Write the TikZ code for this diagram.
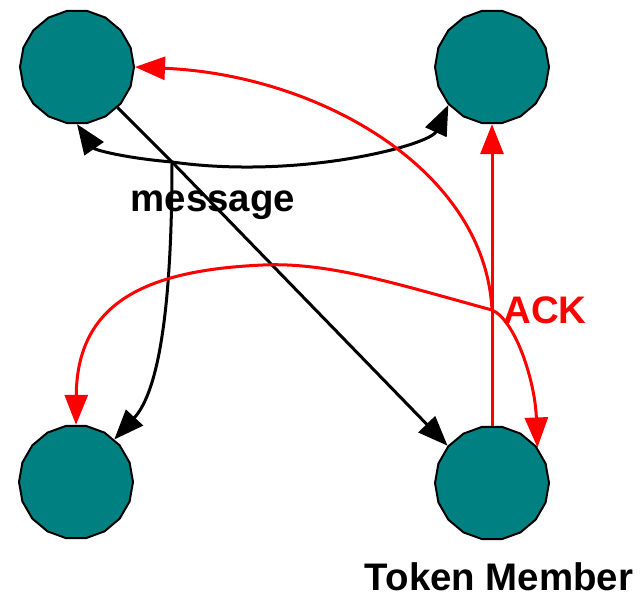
\documentclass[tikz,border=0pt]{standalone}
\usepackage{fontspec}
\setmainfont{Liberation Sans}
\usetikzlibrary{shapes.geometric,arrows.meta}
\definecolor{tealfill}{RGB}{0,128,128}
\definecolor{ackred}{RGB}{255,0,0}
\begin{document}
\begin{tikzpicture}[x=0.5pt,y=-0.5pt,
  member/.style={regular polygon, regular polygon sides=18, minimum size=57pt, inner sep=0pt, fill=tealfill, draw=black, line width=1pt},
  msg/.style={draw=black, line width=1.5pt},
  ack/.style={draw=ackred, line width=1.5pt},
  tip/.style={-{Triangle[length=15pt,width=11.5pt]}},
  lbl/.style={inner sep=0pt, font=\bfseries\fontsize{19.2}{22}\selectfont}]
\useasboundingbox (0,0) rectangle (643,598);
\node[member] (TL) at (77,67) {};
\node[member] (TR) at (492,67) {};
\node[member] (BL) at (76,482) {};
\node[member] (BR) at (492,483) {};
\coordinate (J1) at (172,162);
\coordinate (J2) at (492,310);
% message edges
\draw[msg] (TL.-45) -- (J1);
\draw[msg,tip] (J1) -- (BR.140);
\draw[msg,tip] (J1) .. controls (125,158) and (95,150) .. (TL.-90);
\draw[msg,tip] (J1) .. controls (300,180) and (430,145) .. (TR.221);
\draw[msg,tip] (J1) .. controls (172,300) and (160,390) .. (BL.48);
% ACK edges
\draw[ack] (BR.north) -- (J2);
\draw[ack,tip] (J2) -- (TR.south);
\draw[ack,tip] (J2) .. controls (485,170) and (320,75) .. (TL.east);
\draw[ack,tip] (J2) .. controls (400,285) and (330,262) .. (263,265) .. controls (150,270) and (77,300) .. (BL.north);
\draw[ack,tip] (J2) .. controls (515,320) and (535,380) .. (BR.38);
% labels
\node[lbl, anchor=base] (msglabel) at (213,212) {message};
\node[lbl, anchor=base, text=ackred] (acklabel) at (545,324) {ACK};
\node[lbl, anchor=base] (tokenlabel) at (499,591) {Token Member};
\end{tikzpicture}
\end{document}
